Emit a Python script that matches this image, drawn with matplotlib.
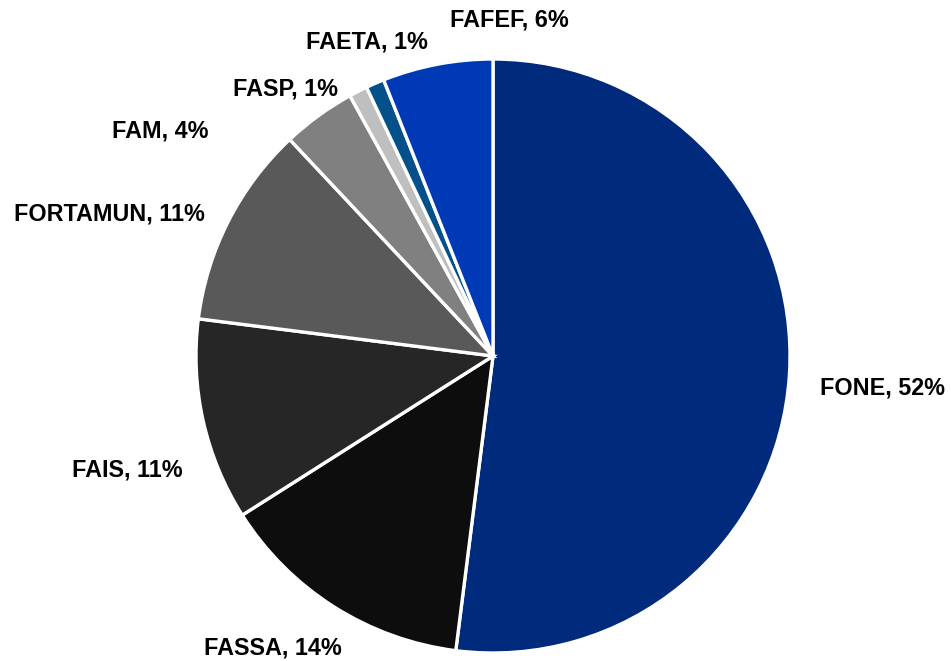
import matplotlib
matplotlib.use("Agg")
from matplotlib import pyplot as plt

# Data
funds = ["FONE", "FASSA", "FAIS", "FORTAMUN", "FAM", "FASP", "FAETA", "FAFEF"]
shares = [52, 14, 11, 11, 4, 1, 1, 6]
colors = ["#002A7B", "#0D0D0D", "#262626", "#595959", "#808080",
          "#BFBFBF", "#03508A", "#0039B5"]

# label anchor points (in pie radius units, relative to the centre)
label_xy = [(1.313, -0.108), (-0.741, -0.983), (-1.232, -0.384),
            (-1.290, 0.478), (-1.121, 0.758), (-0.697, 0.899),
            (-0.424, 1.057), (0.054, 1.131)]

plt.rcParams["font.family"] = ["Liberation Sans", "DejaVu Sans"]

fig = plt.figure(figsize=(9.51, 6.61), dpi=100)
ax = fig.add_axes([0, 0, 1, 1])

ax.pie(shares, colors=colors, startangle=90, counterclock=False,
       wedgeprops=dict(edgecolor="white", linewidth=2.4))

for name, val, (x, y) in zip(funds, shares, label_xy):
    ax.text(x, y, "{}, {}%".format(name, val), ha="center", va="center",
            fontsize=16.8, fontweight="bold", color="black")

# pie centre at pixel (493, 356), radius 297 px
ax.set_xlim(-493 / 297, (951 - 493) / 297)
ax.set_ylim((356 - 661) / 297, 356 / 297)
ax.axis("off")

fig.savefig("out.png", dpi=100)
